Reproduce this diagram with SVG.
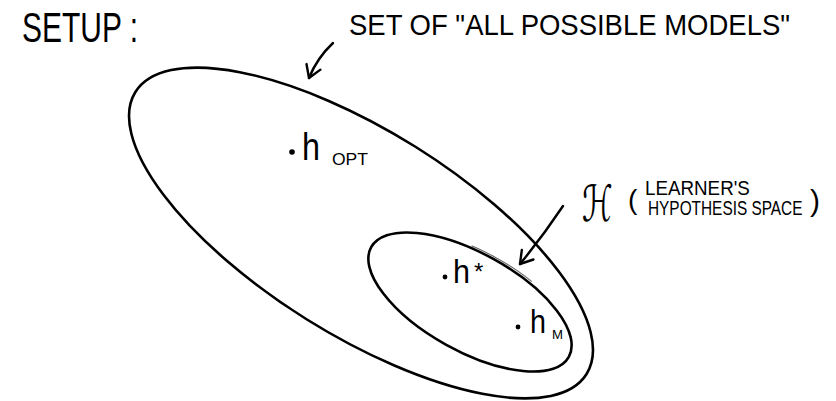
<svg xmlns="http://www.w3.org/2000/svg" width="836" height="401" viewBox="0 0 836 401">
<style>
  .bg { fill: #ffffff; }
  .set { fill: none; stroke: #000; stroke-width: 2.6; }
  .sketch { fill: none; stroke: #000; stroke-width: 1.1; opacity: 0.6; }
  .arrow { fill: none; stroke: #000; stroke-width: 2.4; stroke-linecap: round; }
  .hand { font-family: "Liberation Sans", "DejaVu Sans", sans-serif; fill: #000; }
  .pt { fill: #000; }
</style>
<defs>
  <marker id="head" markerUnits="userSpaceOnUse" orient="auto" markerWidth="30" markerHeight="30" refX="0" refY="0" viewBox="-15 -15 30 30" overflow="visible">
    <path d="M -12,-7.5 L 0,0 L -12,7.5" fill="none" stroke="#000" stroke-width="2.4" stroke-linecap="round" stroke-linejoin="round"/>
  </marker>
  <clipPath id="clipOuter"><rect x="235" y="60" width="150" height="55"/></clipPath>
  <clipPath id="clipInner"><rect x="445" y="230" width="70" height="32"/></clipPath>
</defs>
<rect class="bg" x="0" y="0" width="836" height="401"/>

<g id="title">
  <text class="hand" x="22" y="42" font-size="42" textLength="116" lengthAdjust="spacingAndGlyphs">SETUP :</text>
</g>

<g id="all-models">
  <ellipse class="set" cx="361" cy="233" rx="266" ry="102" transform="rotate(32 361 233)"/>
  <ellipse class="sketch" cx="361" cy="232" rx="267" ry="103.5" transform="rotate(31.6 361 232)" clip-path="url(#clipOuter)"/>
  <text class="hand" x="349" y="35" font-size="30" textLength="441" lengthAdjust="spacingAndGlyphs">SET OF "ALL POSSIBLE MODELS"</text>
</g>

<g id="hypothesis-space">
  <ellipse class="set" cx="470" cy="302" rx="113" ry="49" transform="rotate(29 470 302)"/>
  <ellipse class="sketch" cx="470" cy="301" rx="114" ry="50.5" transform="rotate(28.6 470 301)" clip-path="url(#clipInner)"/>
  <text class="hand" transform="translate(582,221) scale(0.62,1)" font-size="50" style="font-family:'DejaVu Serif','DejaVu Sans',serif">ℋ</text>
  <text class="hand" x="628" y="209" font-size="28">(</text>
  <text class="hand" transform="translate(645,195) scale(1,1.12)" font-size="18.8">LEARNER'S</text>
  <text class="hand" transform="translate(648,215) scale(1,1.28)" font-size="15.4">HYPOTHESIS SPACE</text>
  <text class="hand" x="810" y="211" font-size="30">)</text>
</g>

<g id="h-opt">
  <circle class="pt" cx="292" cy="152" r="2.8"/>
  <text class="hand" x="302" y="160" font-size="38" textLength="18" lengthAdjust="spacingAndGlyphs">h</text>
  <text class="hand" x="332" y="165" font-size="17" textLength="36" lengthAdjust="spacingAndGlyphs">OPT</text>
</g>

<g id="h-star">
  <circle class="pt" cx="445" cy="277" r="2.4"/>
  <text class="hand" x="453" y="283" font-size="34" textLength="17" lengthAdjust="spacingAndGlyphs">h</text>
  <text class="hand" x="474" y="280" font-size="24">*</text>
</g>

<g id="h-m">
  <circle class="pt" cx="518" cy="327" r="2.4"/>
  <text class="hand" x="530" y="333" font-size="34" textLength="16" lengthAdjust="spacingAndGlyphs">h</text>
  <text class="hand" x="552" y="339" font-size="13" textLength="11" lengthAdjust="spacingAndGlyphs">M</text>
</g>

<g id="connectors">
  <path class="arrow" d="M 333,43 Q 317,58 309,78" marker-end="url(#head)"/>
  <path class="arrow" d="M 563,206 Q 543,236 520,264" marker-end="url(#head)"/>
</g>
</svg>
